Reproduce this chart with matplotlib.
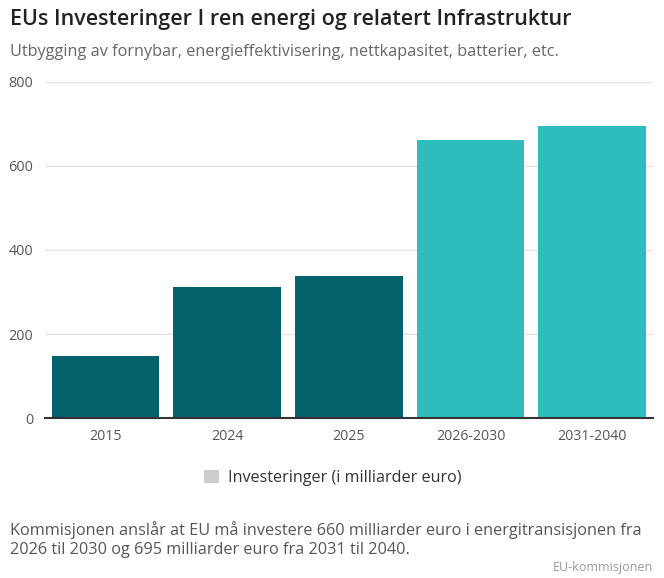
import matplotlib
matplotlib.use("Agg")
import matplotlib.pyplot as plt
from matplotlib.patches import Patch

categories = ["2015", "2024", "2025", "2026-2030", "2031-2040"]
values = [147, 313, 337, 660, 695]
bar_colors = ["#03626b", "#03626b", "#03626b", "#2ebdbc", "#2ebdbc"]
yticks = [0, 200, 400, 600, 800]

title = "EUs Investeringer I ren energi og relatert Infrastruktur"
subtitle = "Utbygging av fornybar, energieffektivisering, nettkapasitet, batterier, etc."
legend_label = "Investeringer (i milliarder euro)"
note = ("Kommisjonen anslår at EU må investere 660 milliarder euro i energitransisjonen fra\n"
        "2026 til 2030 og 695 milliarder euro fra 2031 til 2040.")
source = "EU-kommisjonen"

plt.rcParams['font.family'] = ['Open Sans', 'DejaVu Sans']

W, H = 664, 578
fig = plt.figure(figsize=(W / 100, H / 100), dpi=100)
left, right, top, bottom = 44.6, 653, 81.5, 418.3
ax = fig.add_axes([left / W, 1 - bottom / H, (right - left) / W, (bottom - top) / H])

x = range(len(categories))
ax.bar(x, values, width=0.884, color=bar_colors, zorder=3)
ax.set_xlim(-0.5, len(categories) - 0.5)
ax.set_ylim(0, 800)
ax.set_yticks(yticks)
ax.set_yticklabels([str(v) for v in yticks])
ax.set_xticks(list(x))
ax.set_xticklabels(categories)
ax.grid(axis='y', color='#e3e3e3', linewidth=1, zorder=0)
for s in ['top', 'right', 'left']:
    ax.spines[s].set_visible(False)
ax.spines['bottom'].set_color('#333333')
ax.spines['bottom'].set_linewidth(1.5)
ax.spines['bottom'].set_zorder(4)
ax.tick_params(axis='y', length=0, pad=8, labelsize=10.4, labelcolor='#555555')
ax.tick_params(axis='x', length=0, pad=8, labelsize=10.2, labelcolor='#555555')
for lab in ax.get_yticklabels():
    lab.set_verticalalignment('center_baseline')

fig.text(10 / W, 1 - 20 / H, title, fontsize=15.5, fontweight='semibold',
         color='#222222', ha='left', va='center')
fig.text(10 / W, 1 - 52 / H, subtitle, fontsize=11.7, color='#666666',
         ha='left', va='center')

handles = [Patch(facecolor='#cccccc', edgecolor='none', label=legend_label)]
fig.legend(handles=handles, loc='center', bbox_to_anchor=(333 / W, 1 - 478 / H),
           frameon=False, fontsize=11.65, handlelength=0.9, handleheight=0.9,
           handletextpad=0.6, labelcolor='#333333')

fig.text(10 / W, 1 - 540 / H, note, fontsize=11.7, color='#555555', ha='left',
         va='center', linespacing=1.25)
fig.text(653 / W, 1 - 568 / H, source, fontsize=9.0, color='#999999',
         ha='right', va='center')

fig.savefig("out.png", dpi=100)
